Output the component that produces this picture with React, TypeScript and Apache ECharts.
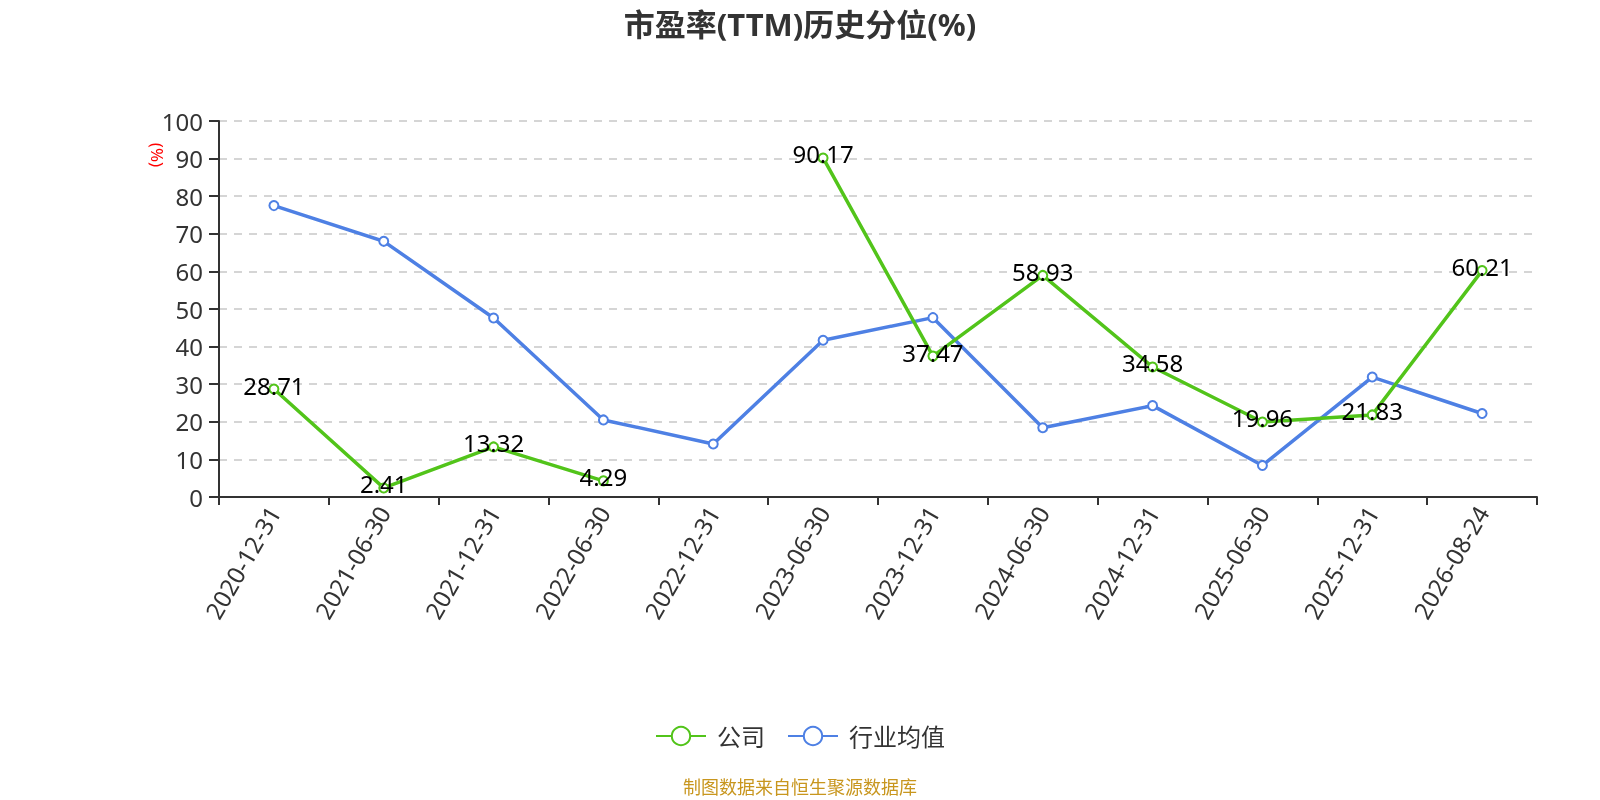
import React, { useEffect, useRef } from "react";
import * as echarts from "echarts";

const categories = [
  "2020-12-31", "2021-06-30", "2021-12-31", "2022-06-30", "2022-12-31", "2023-06-30",
  "2023-12-31", "2024-06-30", "2024-12-31", "2025-06-30", "2025-12-31", "2026-08-24",
];
const companyValues: (number | null)[] = [28.71, 2.41, 13.32, 4.29, null, 90.17, 37.47, 58.93, 34.58, 19.96, 21.83, 60.21];
const industryValues: number[] = [77.5, 68.0, 47.6, 20.5, 14.1, 41.7, 47.7, 18.4, 24.3, 8.4, 31.9, 22.2];
const seriesNames = ["公司", "行业均值"];

const FONT = "'Noto Sans', 'Noto Sans CJK SC', sans-serif";

export default function App() {
  const ref = useRef<HTMLDivElement>(null);
  useEffect(() => {
    if (!ref.current) return;
    const chart = echarts.init(ref.current, undefined, { renderer: "svg" });
    chart.setOption({
      animation: false,
      textStyle: { fontFamily: FONT },
      title: {
        text: "市盈率(TTM)历史分位(%)",
        left: "center",
        top: 3,
        textStyle: { fontSize: 31, fontWeight: "bold", color: "#333", fontFamily: FONT },
      },
      grid: { left: 219, right: 63, top: 121, bottom: 303 },
      legend: {
        top: 719,
        left: "center",
        itemWidth: 50,
        itemHeight: 23,
        itemGap: 22,
        textStyle: { fontSize: 24, color: "#333", padding: [0, 0, 0, 6] },
        data: seriesNames,
      },
      graphic: [
        {
          type: "text",
          x: 157,
          y: 155,
          rotation: -Math.PI / 2,
          style: { text: "(%)", fill: "red", fontSize: 17, fontFamily: FONT, align: "center", verticalAlign: "middle" },
        },
        {
          type: "text",
          left: "center",
          top: 778,
          style: { text: "制图数据来自恒生聚源数据库", fill: "#c8961e", fontSize: 18, fontFamily: FONT },
        },
      ],
      xAxis: {
        type: "category",
        data: categories,
        boundaryGap: true,
        axisLine: { lineStyle: { color: "#333", width: 2 } },
        axisTick: { show: true, length: 8, lineStyle: { color: "#333", width: 2 } },
        axisLabel: { rotate: 60, fontSize: 24, color: "#333", margin: 11 },
      },
      yAxis: {
        type: "value",
        min: 0,
        max: 100,
        interval: 10,
        axisLine: { show: true, lineStyle: { color: "#333", width: 2 } },
        axisTick: { show: true, length: 10, lineStyle: { color: "#333", width: 2 } },
        axisLabel: { fontSize: 24, color: "#333", margin: 16 },
        splitLine: { lineStyle: { type: [8, 7], color: "#c8c8c8", width: 1.5 } },
      },
      series: [
        {
          name: seriesNames[0],
          type: "line",
          data: companyValues,
          connectNulls: false,
          symbol: "emptyCircle",
          symbolSize: 9,
          itemStyle: { color: "#52c41a", borderWidth: 2 },
          lineStyle: { width: 3.5, color: "#52c41a" },
          label: { show: true, position: "inside", offset: [0, -4], color: "#000", fontSize: 24 },
          z: 3,
        },
        {
          name: seriesNames[1],
          type: "line",
          data: industryValues,
          symbol: "emptyCircle",
          symbolSize: 9,
          itemStyle: { color: "#4e80e4", borderWidth: 2 },
          lineStyle: { width: 3.5, color: "#4e80e4" },
          z: 2,
        },
      ],
    });
    return () => chart.dispose();
  }, []);
  return <div ref={ref} style={{ position: "fixed", left: 0, top: 0, width: 1600, height: 800 }} />;
}
